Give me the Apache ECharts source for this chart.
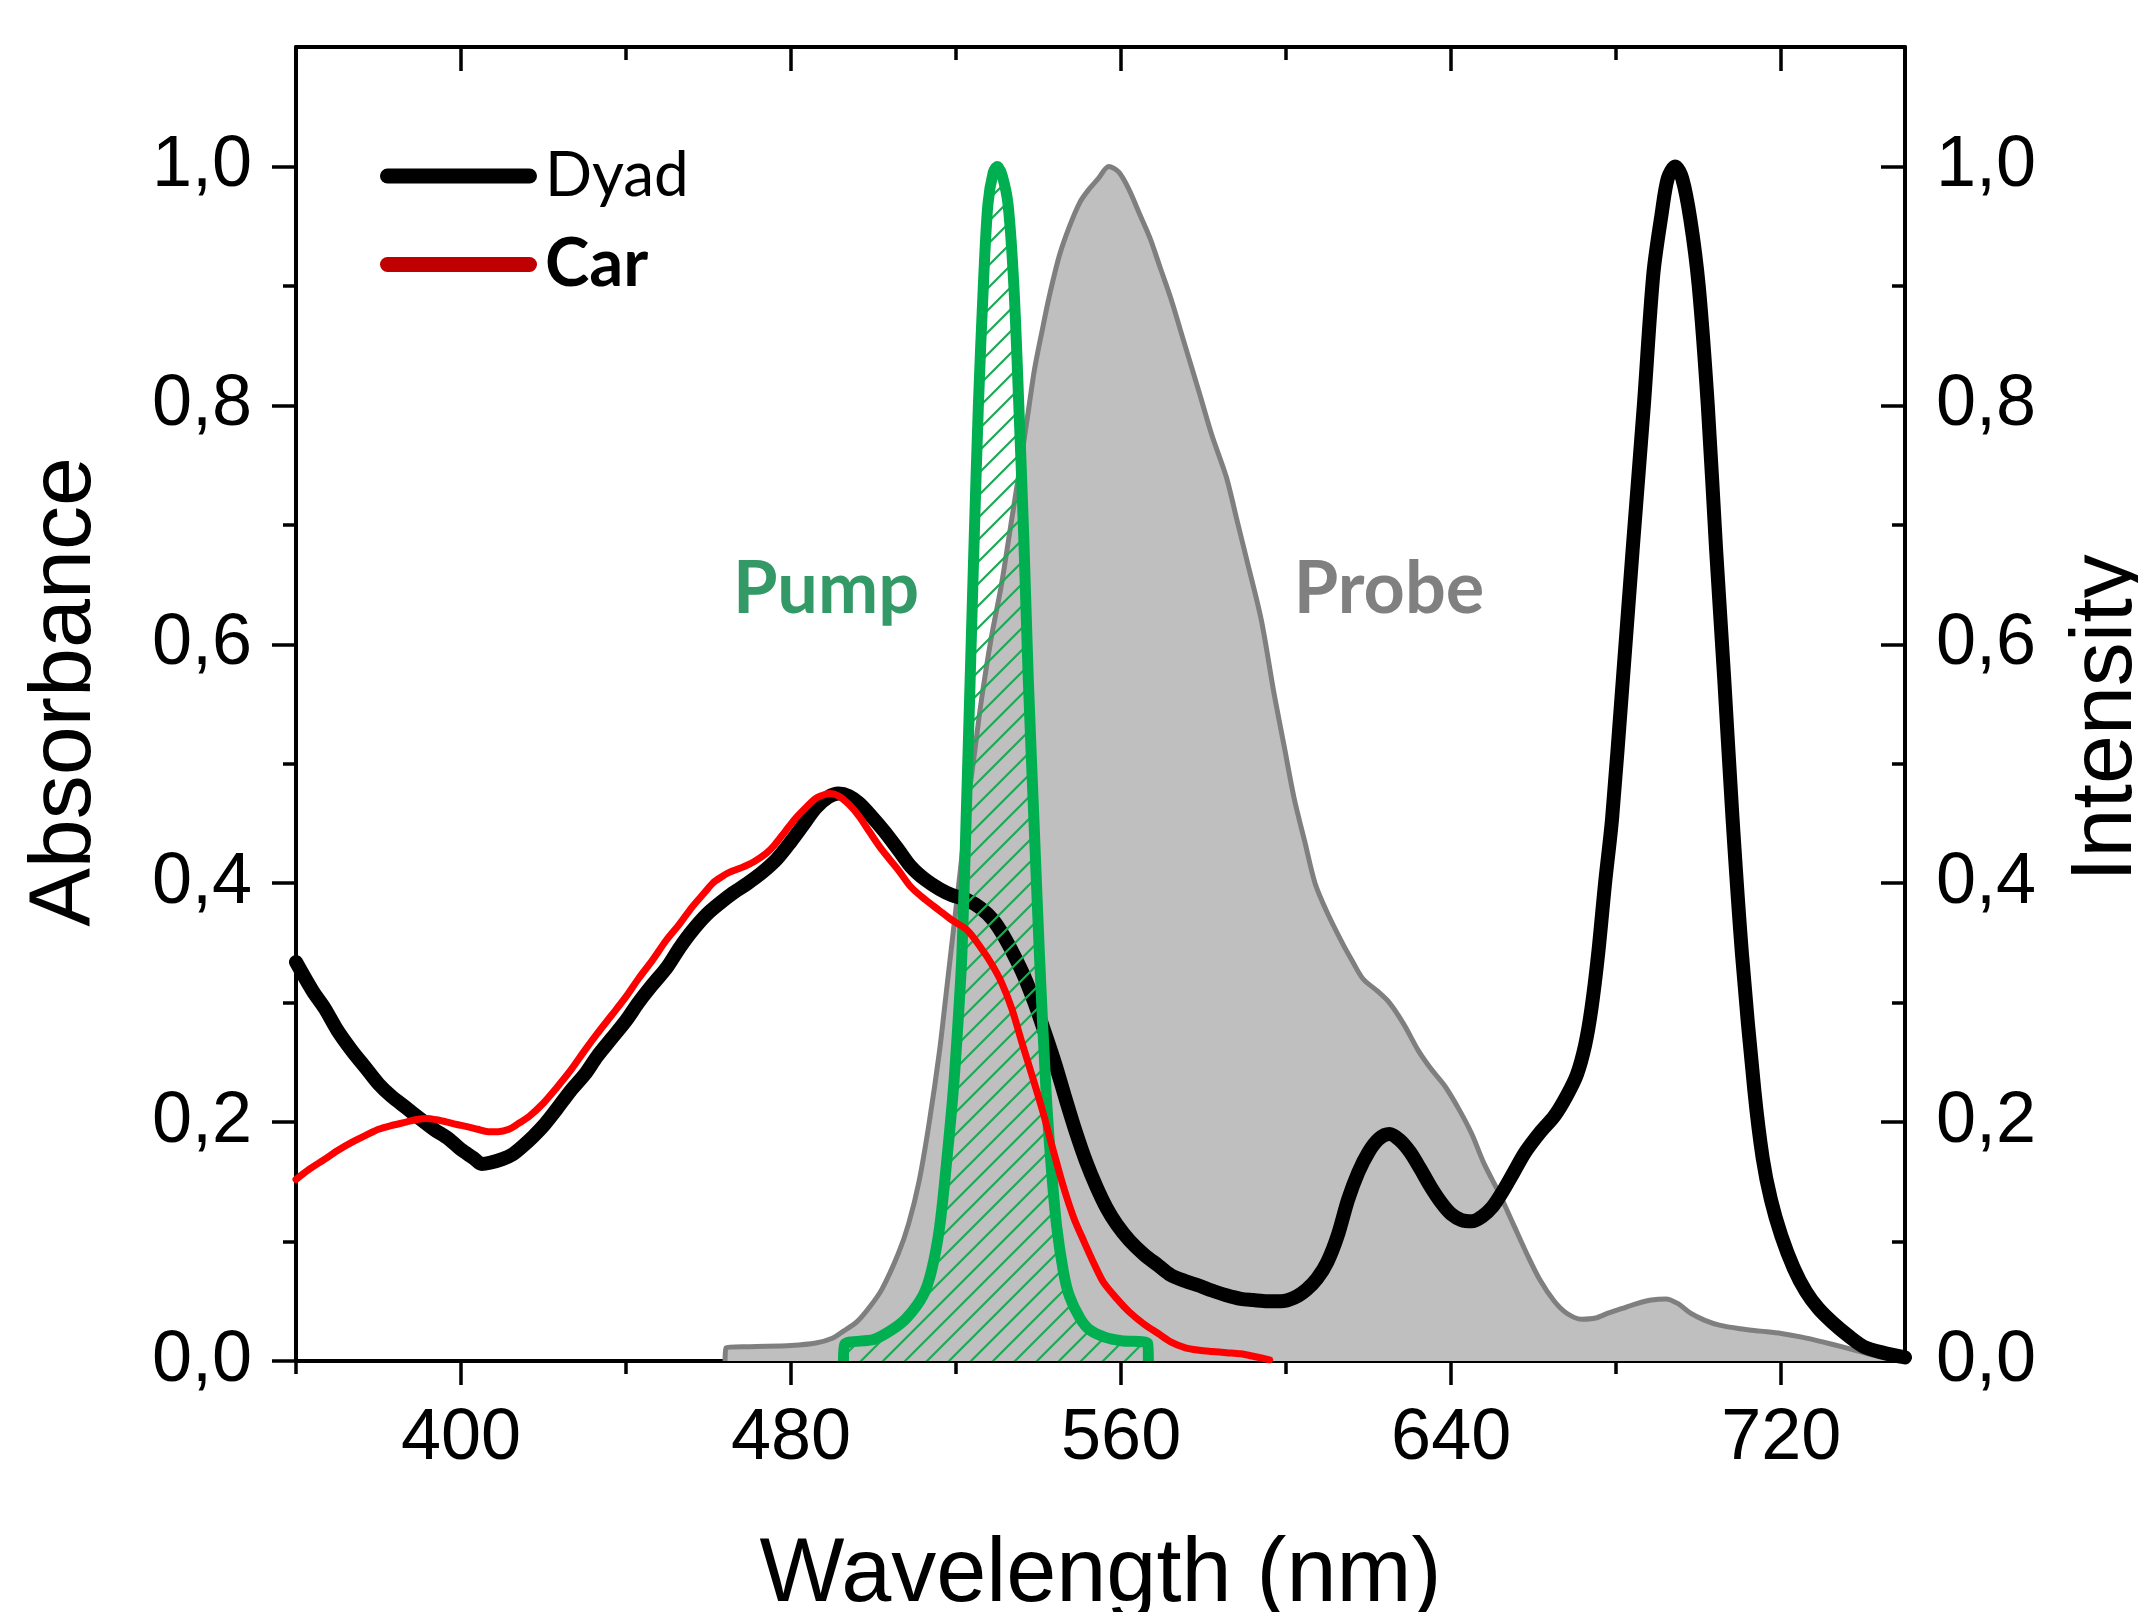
<!DOCTYPE html>
<html>
<head>
<meta charset="utf-8">
<script src="https://cdn.jsdelivr.net/npm/echarts@6/dist/echarts.min.js"></script>
<style>
html,body{margin:0;padding:0;background:#fff;}
#chart{width:2138px;height:1612px;}
</style>
</head>
<body>
<div id="chart"></div>
<script>
// ---- Tick values ----
const xMajorTicks = [400, 480, 560, 640, 720];
const xMinorTicks = [360, 440, 520, 600, 680];
const yMajorTicks = [0, 0.2, 0.4, 0.6, 0.8, 1.0];
const yMinorTicks = [0.1, 0.3, 0.5, 0.7, 0.9];

// ---- Series data: [wavelength (nm), value] ----
const dyad = [
[360,0.334],[364,0.31],[367,0.295],[370,0.277],[373.5,0.26],[377,0.245],[380,0.232],[383,0.222],[386.7,0.212],[390,0.203],
[393.4,0.194],[397,0.186],[400,0.177],[403,0.17],[405,0.165],[407,0.166],[410,0.169],[412.5,0.173],[415,0.18],[417.5,0.188],
[420,0.197],[423,0.21],[426.5,0.226],[430,0.24],[433,0.255],[436.5,0.27],[440,0.285],[443,0.3],[446.4,0.315],[450,0.33],
[453,0.346],[456,0.36],[459.6,0.374],[463,0.384],[466,0.392],[469.5,0.4],[473,0.409],[476.5,0.42],[480,0.435],[483,0.449],
[486,0.463],[489,0.472],[491.5,0.475],[494,0.473],[496.5,0.467],[499.5,0.456],[502.7,0.443],[506,0.428],[509,0.414],[512.5,0.403],
[516,0.395],[519,0.39],[522.6,0.386],[526,0.379],[529,0.369],[531.5,0.356],[534,0.34],[536.5,0.322],[539,0.3],[541.5,0.275],
[544,0.249],[546.5,0.22],[549,0.192],[551.5,0.167],[554,0.146],[556.5,0.128],[559,0.114],[562,0.101],[565.6,0.089],[569,0.08],
[572,0.072],[575.5,0.067],[579,0.063],[582,0.059],[585.5,0.055],[589,0.052],[592,0.051],[595.5,0.05],[598.7,0.05],[602,0.053],
[605,0.06],[607.5,0.069],[610,0.083],[612.5,0.105],[615,0.135],[617.5,0.158],[620,0.175],[622.5,0.186],[625,0.19],[627.5,0.185],
[630,0.175],[632.5,0.161],[635,0.146],[637.5,0.133],[640,0.123],[642.5,0.118],[645,0.117],[647.5,0.121],[650,0.129],[652.5,0.142],
[655,0.157],[658,0.175],[661.7,0.192],[665,0.205],[668,0.222],[670.5,0.24],[672.5,0.265],[674,0.295],[675.6,0.34],[677.3,0.4],
[679,0.454],[681.6,0.57],[684,0.68],[686.7,0.8],[689,0.91],[691,0.96],[692.5,0.99],[694.3,1.0],[696,0.99],[698,0.955],
[700,0.9],[702.2,0.8],[704.2,0.68],[706.2,0.57],[708.2,0.454],[710.5,0.34],[713.5,0.226],[715.5,0.17],[717.5,0.135],[720,0.105],
[723,0.078],[726,0.058],[729,0.044],[732.5,0.032],[736.3,0.021],[740,0.012],[744.6,0.007],[750,0.003]
];

const car = [
[360,0.152],[363,0.16],[367,0.169],[370,0.176],[373.5,0.183],[377,0.189],[380,0.194],[383,0.197],[386.7,0.2],[389,0.202],
[391.7,0.203],[394,0.202],[396.7,0.2],[399,0.198],[401.7,0.196],[404,0.194],[406.6,0.192],[409,0.192],[411.6,0.194],[414,0.199],
[416.6,0.205],[420,0.216],[423,0.228],[426.5,0.243],[430,0.26],[433,0.274],[436.4,0.289],[440,0.305],[443,0.32],[446.5,0.336],
[449.7,0.352],[453,0.366],[456,0.38],[459,0.392],[461,0.4],[463,0.405],[465,0.409],[468,0.413],[471,0.418],[474,0.425],
[476,0.432],[478.5,0.443],[481,0.454],[483.5,0.463],[486,0.471],[488,0.474],[489.5,0.475],[491.5,0.473],[494,0.466],[496.5,0.456],
[499,0.443],[502,0.428],[506,0.411],[509,0.397],[512.6,0.386],[516,0.377],[519,0.369],[522.6,0.361],[526,0.346],[528.5,0.333],
[531,0.317],[533.5,0.295],[536,0.266],[538.5,0.238],[541,0.209],[543.5,0.177],[546,0.146],[548.5,0.12],[551,0.1],[553.5,0.081],
[555.7,0.066],[559,0.052],[562,0.041],[565.5,0.031],[569,0.023],[572,0.016],[575.6,0.011],[579,0.009],[582,0.008],[585.5,0.007],
[589,0.006],[592,0.004],[596,0.001]
];

const probe = [
[464,0],[464.2,0.011],[470,0.012],[480,0.013],[486,0.015],[490,0.019],[492.7,0.025],[496,0.033],[499,0.045],[502,0.06],
[506,0.09],[508.5,0.115],[511,0.15],[513.5,0.2],[516,0.26],[517.5,0.305],[519,0.35],[521,0.41],[522.6,0.46],[524.5,0.51],
[526,0.55],[528.5,0.605],[531,0.65],[533.5,0.705],[536,0.76],[537.5,0.795],[539,0.83],[541,0.865],[542.5,0.89],[545,0.925],
[547.5,0.95],[550,0.97],[552,0.98],[554.5,0.99],[557,1.0],[559.5,0.995],[562,0.98],[564.5,0.96],[567,0.94],[569.5,0.915],
[572,0.89],[575.5,0.85],[579,0.81],[582,0.775],[585.5,0.74],[588,0.705],[590.5,0.67],[594,0.62],[597,0.56],[599.5,0.515],
[602,0.47],[604.5,0.435],[607,0.4],[610,0.375],[613.6,0.35],[616,0.335],[618.6,0.32],[622,0.31],[625,0.3],[628.5,0.282],
[632,0.26],[635,0.245],[638.5,0.23],[642,0.21],[645,0.19],[648,0.165],[651.7,0.14],[655,0.115],[658.3,0.09],[661.5,0.068],
[665,0.05],[668,0.04],[671.6,0.035],[675,0.036],[678,0.04],[681.5,0.044],[685,0.048],[688.5,0.051],[692,0.052],[695,0.048],
[698,0.04],[701.5,0.034],[705,0.03],[710,0.027],[715,0.025],[720,0.023],[725,0.02],[730,0.016],[734.6,0.012],[740,0.007],
[744.6,0.003],[750,0]
];

const pump = [
[492.7,0],[493,0.014],[500,0.018],[504.4,0.026],[508,0.036],[512,0.055],[514,0.075],[516,0.112],[517.8,0.17],[519.3,0.226],
[520.4,0.28],[521.4,0.34],[522.4,0.45],[523.4,0.57],[524.4,0.69],[525.4,0.8],[526.6,0.9],[527.7,0.968],[529,0.995],[530,1.0],
[531.2,0.992],[532.6,0.968],[534,0.9],[535.2,0.8],[536.4,0.69],[537.5,0.57],[538.9,0.45],[540.2,0.34],[541.8,0.226],[543,0.165],
[544.4,0.112],[546,0.075],[547.4,0.055],[550,0.036],[552.4,0.026],[556,0.02],[560,0.017],[566.4,0.015],[566.6,0]
];

// ---- hatch pattern for the pump area ----
function makeHatch() {
  const s = 22;
  const c = document.createElement('canvas');
  c.width = s; c.height = s;
  const g = c.getContext('2d');
  g.strokeStyle = '#1fa855';
  g.lineWidth = 2.2;
  g.beginPath();
  g.moveTo(0, s); g.lineTo(s, 0);
  g.moveTo(-s/2, s/2); g.lineTo(s/2, -s/2);
  g.moveTo(s/2, s*1.5); g.lineTo(s*1.5, s/2);
  g.stroke();
  return c;
}

const tickFont = 'Liberation Sans, Arial, sans-serif';
const fmt = v => v.toFixed(1).replace('.', ',');
const AX = '#000';
const pill = 'path://M7.5,0 L149.5,0 A7.5,7.5 0 0 1 149.5,15 L7.5,15 A7.5,7.5 0 0 1 7.5,0 Z';

function xAx(pos, ticks, len, inside, showLine, extra) {
  return Object.assign({
    type: 'value', min: 360, max: 750, position: pos, gridIndex: 0,
    axisLine: { show: showLine, onZero: false, lineStyle: { color: AX, width: 4 } },
    axisTick: { show: true, customValues: ticks, length: len, inside: inside, lineStyle: { color: AX, width: 3.5 } },
    axisLabel: { show: false },
    splitLine: { show: false }
  }, extra || {});
}
function yAx(pos, ticks, len, inside, showLine, extra) {
  return Object.assign({
    type: 'value', min: 0, max: 1.1, position: pos, gridIndex: 0,
    axisLine: { show: showLine, onZero: false, lineStyle: { color: AX, width: 4 } },
    axisTick: { show: true, customValues: ticks, length: len, inside: inside, lineStyle: { color: AX, width: 3.5 } },
    axisLabel: { show: false },
    splitLine: { show: false }
  }, extra || {});
}

const smoothOpts = { smooth: 0.3 };

const chart = echarts.init(document.getElementById('chart'), null, { renderer: 'canvas' });
chart.setOption({
  animation: false,
  backgroundColor: '#fff',
  grid: { left: 296, right: 233, top: 47, bottom: 251, containLabel: false, outerBoundsMode: 'none' },
  legend: {
    orient: 'vertical', left: 375, top: 138,
    itemWidth: 157, itemHeight: 15, itemGap: 22,
    itemStyle: { borderWidth: 0 },
    textStyle: { fontFamily: 'Lato, sans-serif', fontSize: 62, color: '#000', lineHeight: 66, padding: [0, 0, 0, 3] },
    data: [
      { name: 'Dyad', icon: pill, itemStyle: { color: '#000' } },
      { name: 'Car', icon: pill, itemStyle: { color: '#c00000' }, textStyle: { fontWeight: 'bold', fontSize: 67 } }
    ]
  },
  xAxis: [
    xAx('bottom', xMajorTicks, 24, false, true, {
      axisLabel: { show: true, customValues: xMajorTicks, fontFamily: tickFont, fontSize: 72, color: '#000', margin: 42 },
      name: 'Wavelength (nm)', nameLocation: 'middle', nameGap: 170,
      nameTextStyle: { fontFamily: tickFont, fontSize: 90, color: '#000' }
    }),
    xAx('bottom', xMinorTicks, 13, false, false),
    xAx('top', xMajorTicks, 24, true, true),
    xAx('top', xMinorTicks, 13, true, false)
  ],
  yAxis: [
    yAx('left', yMajorTicks, 24, false, true, {
      axisLabel: { show: true, customValues: yMajorTicks, formatter: fmt, fontFamily: tickFont, fontSize: 72, color: '#000', margin: 44 },
      name: 'Absorbance', nameLocation: 'middle', nameRotate: 90, nameGap: 186,
      nameTextStyle: { fontFamily: tickFont, fontSize: 88, color: '#000', padding: [0, 0, 0, 24] }
    }),
    yAx('left', yMinorTicks, 13, false, false),
    yAx('right', yMajorTicks, 24, true, true, {
      axisLabel: { show: true, customValues: yMajorTicks, formatter: fmt, fontFamily: tickFont, fontSize: 72, color: '#000', margin: 31 },
      name: 'Intensity', nameLocation: 'middle', nameRotate: 90, nameGap: 158,
      nameTextStyle: { fontFamily: tickFont, fontSize: 88, color: '#000', padding: [0, 28, 0, 0] }
    }),
    yAx('right', yMinorTicks, 13, true, false)
  ],
  series: [
    Object.assign({
      name: 'Probe', type: 'line', data: probe, xAxisIndex: 0, yAxisIndex: 2,
      showSymbol: false, symbol: 'none', z: 1,
      lineStyle: { color: '#7f7f7f', width: 5, join: 'round' },
      itemStyle: { color: '#7f7f7f' },
      areaStyle: { color: '#bfbfbf', opacity: 1 }
    }, smoothOpts),
    Object.assign({
      name: 'Dyad', type: 'line', data: dyad, xAxisIndex: 0, yAxisIndex: 0,
      showSymbol: false, symbol: 'none', z: 2,
      lineStyle: { color: '#000', width: 14, join: 'round', cap: 'round' },
      itemStyle: { color: '#000' }
    }, smoothOpts),
    Object.assign({
      name: 'Pump', type: 'line', data: pump, xAxisIndex: 0, yAxisIndex: 2,
      showSymbol: false, symbol: 'none', z: 3,
      lineStyle: { color: '#00b050', width: 11, join: 'round' },
      itemStyle: { color: '#00b050' },
      areaStyle: { color: { image: makeHatch(), repeat: 'repeat' }, opacity: 1 }
    }, smoothOpts),
    Object.assign({
      name: 'Car', type: 'line', data: car, xAxisIndex: 0, yAxisIndex: 0,
      showSymbol: false, symbol: 'none', z: 4,
      lineStyle: { color: '#ff0000', width: 7, join: 'round', cap: 'round' },
      itemStyle: { color: '#ff0000' }
    }, smoothOpts)
  ],
  graphic: [
    { type: 'text', x: 826, y: 590, z: 10,
      style: { text: 'Pump', fill: '#339966', font: 'bold 72px Lato, sans-serif', textAlign: 'center', textVerticalAlign: 'middle' } },
    { type: 'text', x: 1389, y: 590, z: 10,
      style: { text: 'Probe', fill: '#808080', font: 'bold 72px Lato, sans-serif', textAlign: 'center', textVerticalAlign: 'middle' } }
  ]
});
</script>
</body>
</html>
